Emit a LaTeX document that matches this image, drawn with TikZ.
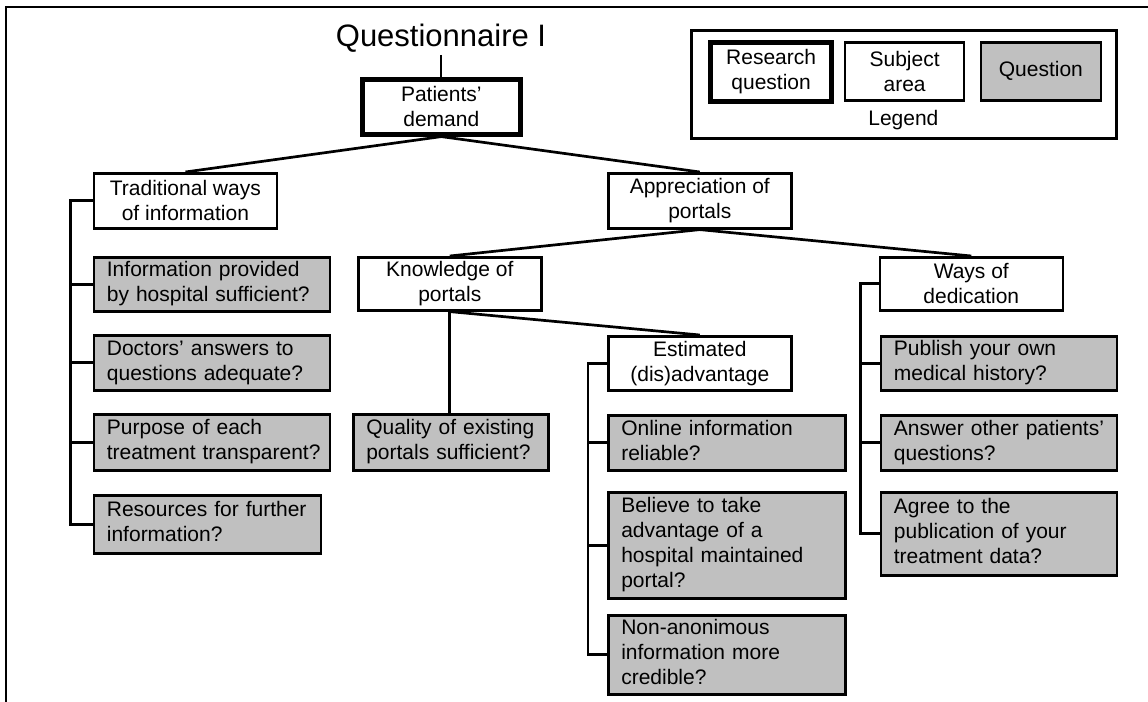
\documentclass[tikz,border=0pt]{standalone}
\usepackage{fontspec}
\setmainfont{Liberation Sans}
\definecolor{questionGray}{HTML}{C0C0C0}
%% Left aligned lines of a question box, allowed to run into the right padding.
\newcommand{\questionLines}[1]{\begin{tabular}{@{}l@{}}#1\end{tabular}}

\begin{document}
\begin{tikzpicture}[%%
  x=0.5pt,y=-0.5pt,%%
  font=\fontsize{10.5}{12.5}\selectfont,%%
  frameStyle/.style={-,line width=0.9pt},%%
  lineStyle/.style={-,line width=1.35pt},%%
  subjectStyle/.style={draw,line width=1.3pt,anchor=north west,align=center,%%
    inner sep=1pt,minimum width=91.5pt,minimum height=27pt},%%
  researchStyle/.style={subjectStyle,line width=2.3pt},%%
  questionStyle/.style={draw,line width=1.3pt,fill=questionGray,anchor=north west,%%
    align=left,inner xsep=6.5pt,inner ysep=1pt,text width=105pt}%%
]
%%
%%
\useasboundingbox (0,0) rectangle (1148,702);
\draw[frameStyle] (6,702) -- (6,7) -- (1148,7);
%%
%% Research question and subject areas.
\node[anchor=base,inner sep=1pt,font=\fontsize{15.5}{18}\selectfont] (title) at (441,46.5) {Questionnaire I};
\node[researchStyle,minimum width=79pt,minimum height=27.5pt] (demand) at (360,77) {Patients'\\demand};
\node[subjectStyle,minimum height=27.5pt] (traditional) at (92.6,172) {Traditional ways\\of information};
\node[subjectStyle,minimum height=27.5pt] (appreciation) at (607,172) {Appreciation of\\portals};
\node[subjectStyle,minimum height=26.5pt] (knowledge) at (357,256) {Knowledge of\\portals};
\node[subjectStyle,minimum height=26.5pt] (dedication) at (878.5,256) {Ways of\\dedication};
\node[subjectStyle] (disadvantage) at (607,335) {Estimated\\(dis)advantage};
%%
%% Questions.
\node[questionStyle,minimum height=26.5pt] (provided) at (92.6,256) {\questionLines{Information provided\\by hospital sufficient?}};
\node[questionStyle,minimum height=27.5pt] (answers) at (92.6,334) {\questionLines{Doctors' answers to\\questions adequate?}};
\node[questionStyle,minimum height=28pt] (purpose) at (92.6,413) {\questionLines{Purpose of each\\treatment transparent?}};
\node[questionStyle,minimum height=29pt,text width=100.5pt] (resources) at (92.6,494) {\questionLines{Resources for further\\information?}};
\node[questionStyle,minimum height=28pt,text width=84.5pt] (quality) at (352,413) {\questionLines{Quality of existing\\portals sufficient?}};
\node[questionStyle,minimum height=27.5pt,text width=105.5pt] (reliable) at (607,414) {\questionLines{Online information\\reliable?}};
\node[questionStyle,minimum height=53pt,text width=105.5pt] (believe) at (607,491) {\questionLines{Believe to take\\advantage of a\\hospital maintained\\portal?}};
\node[questionStyle,minimum height=39pt,text width=105.5pt] (credible) at (607,614) {\questionLines{Non-anonimous\\information more\\credible?}};
\node[questionStyle,minimum height=27pt] (history) at (879.6,335) {\questionLines{Publish your own\\medical history?}};
\node[questionStyle,minimum height=27.5pt] (otherPatients) at (879.6,414) {\questionLines{Answer other patients'\\questions?}};
\node[questionStyle,minimum height=41.5pt] (publication) at (879.6,491) {\questionLines{Agree to the\\publication of your\\treatment data?}};
%%
%% Legend.
\node[draw,line width=1.3pt,anchor=north west,minimum width=212.5pt,minimum height=54pt] (legendFrame) at (690.4,29) {};
\node[researchStyle,minimum width=60.5pt,minimum height=29.5pt] (legendResearch) at (708.3,40) {Research\\question};
\node[subjectStyle,minimum width=59.5pt,minimum height=29pt] (legendSubject) at (843.8,41) {Subject\\area};
\node[subjectStyle,fill=questionGray,minimum width=60pt,minimum height=29pt] (legendQuestion) at (979.6,41) {Question};
\node (legendLabel) at (903.4,120) {Legend};
%%
%% Tree connectors.
\draw[lineStyle,line width=1pt] (demand.north |- title.south) -- (demand.north);
\draw[lineStyle] (demand.south) -- (traditional.north);
\draw[lineStyle] (demand.south) -- (appreciation.north);
\draw[lineStyle] (appreciation.south) -- (knowledge.north);
\draw[lineStyle] (appreciation.south) -- (dedication.north);
\draw[lineStyle] (knowledge.south) -- (knowledge.south |- quality.north);
\draw[lineStyle] (knowledge.south) -- (disadvantage.north);
%%
%% Brackets from a subject area to its questions.
\foreach \questionName in {provided,answers,purpose,resources}
  \draw[lineStyle] (traditional.west) -- ++(-11pt,0) |- (\questionName.west);
\foreach \questionName in {reliable,believe,credible}
  \draw[lineStyle] (disadvantage.west) -- ++(-9.5pt,0) |- (\questionName.west);
\foreach \questionName in {history,otherPatients,publication}
  \draw[lineStyle] (dedication.west) -- ++(-9pt,0) |- (\questionName.west);
\end{tikzpicture}
\end{document}
